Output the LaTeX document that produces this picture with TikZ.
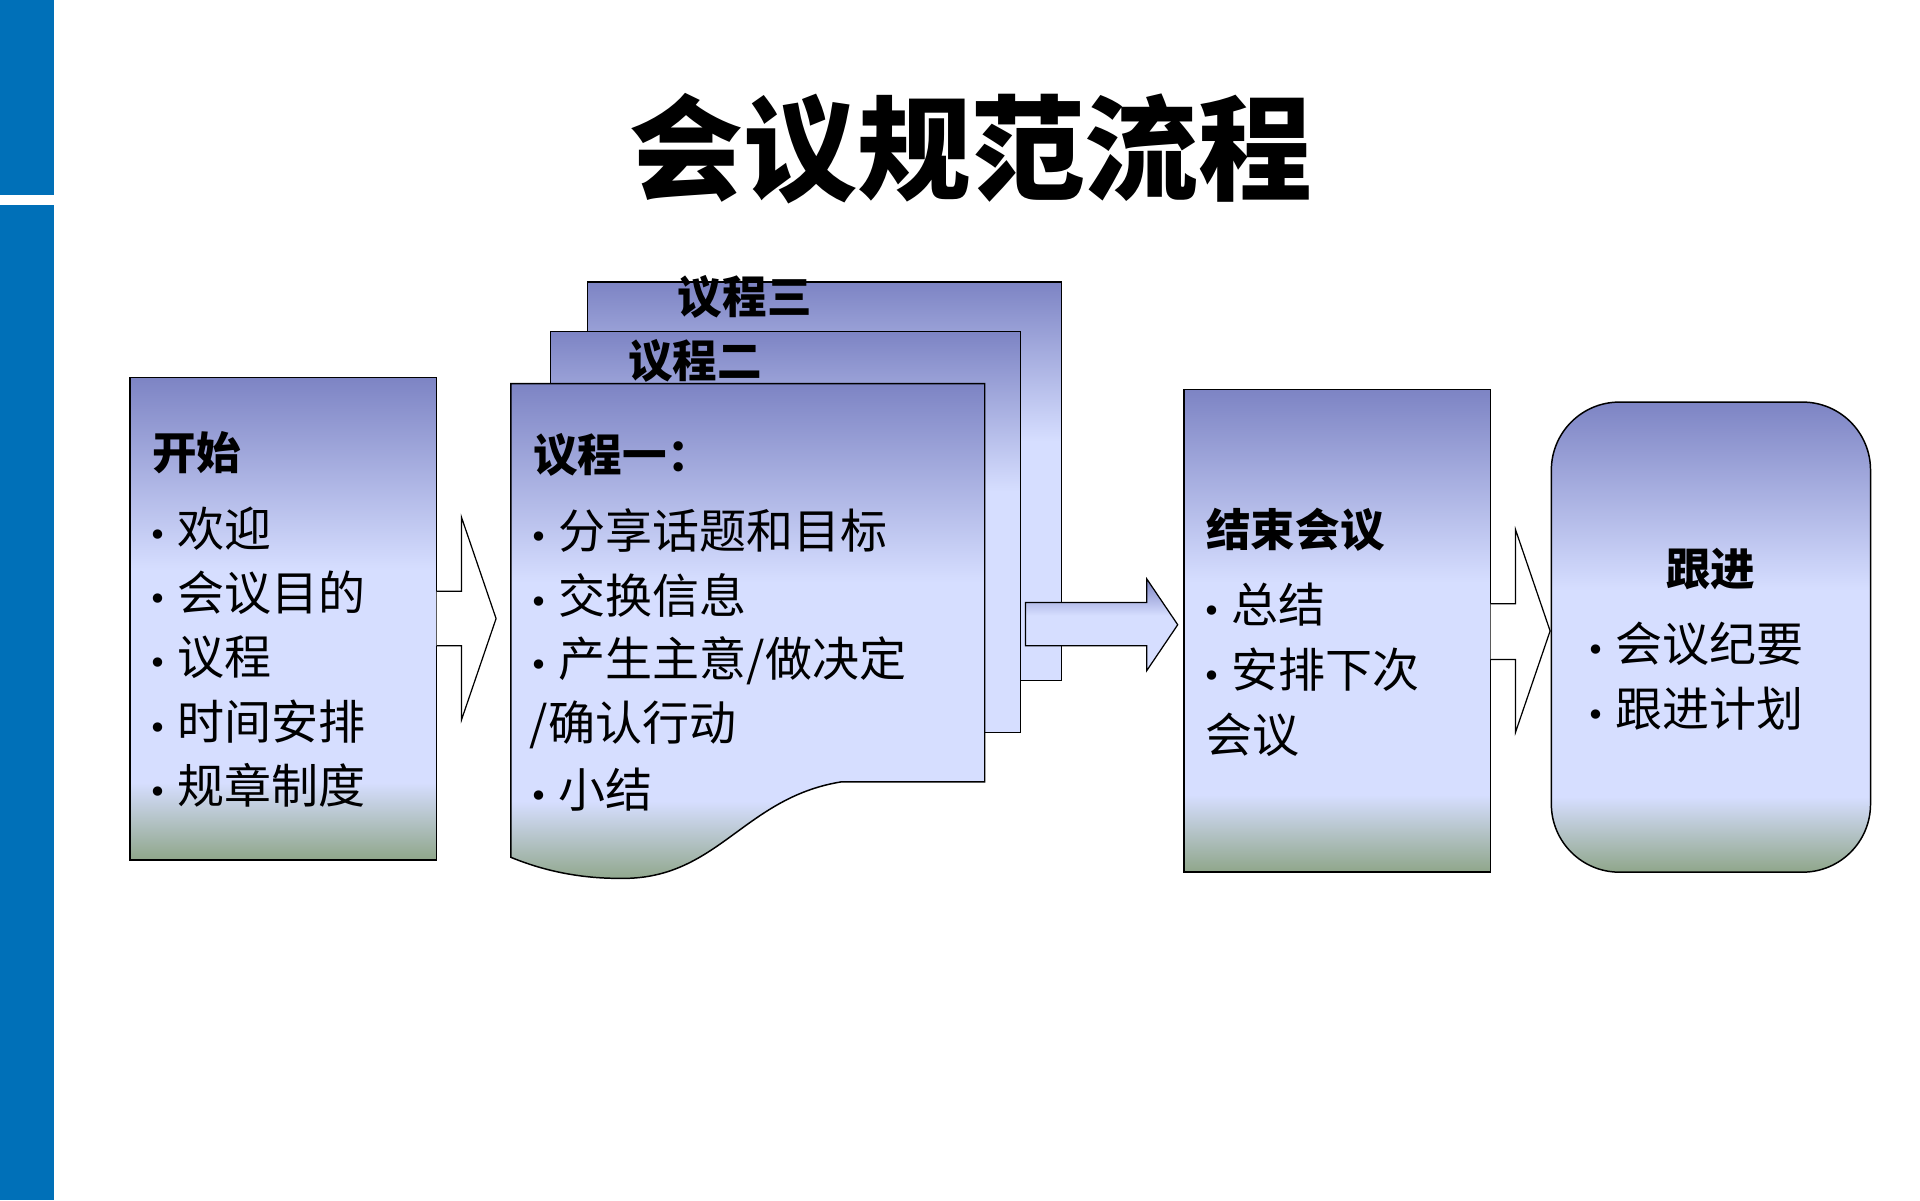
\documentclass[tikz,border=0pt]{standalone}
\usepackage{fontspec}
\setmainfont{Noto Sans CJK SC}
\newfontfamily\cjk{Noto Sans CJK SC}
\newfontfamily\bulfont{DejaVu Sans}
\newcommand{\mybul}{{\bulfont\fontsize{26}{30}\selectfont •}\hspace{8pt}}
\definecolor{botc}{HTML}{8FA68A}
\definecolor{lightc}{HTML}{D6DEFF}
\definecolor{topc}{HTML}{7D84C4}
\definecolor{barblue}{HTML}{0070B8}
\pgfdeclareverticalshading{boxshade}{100bp}{color(0bp)=(botc); color(25bp)=(botc); color(33bp)=(lightc); color(55bp)=(lightc); color(75bp)=(topc); color(100bp)=(topc)}
\pgfdeclareverticalshading{stackshade}{100bp}{color(0bp)=(lightc); color(55bp)=(lightc); color(75bp)=(topc); color(100bp)=(topc)}
\begin{document}
\begin{tikzpicture}[x=1pt,y=-1pt,
  shbox/.style={draw=black,line width=1.2pt,shading=boxshade},
  stbox/.style={draw=black,line width=1.2pt,shading=stackshade},
  body/.style={anchor=west,font=\cjk\fontsize{38}{40}\selectfont,inner sep=0pt},
  head/.style={anchor=west,font=\cjk\bfseries\fontsize{36}{40}\selectfont,inner sep=0pt}]
\useasboundingbox (0,0) rectangle (1552,970);
\fill[white] (0,0) rectangle (1552,970);
\fill[barblue] (0,0) rectangle (44,158);
\fill[barblue] (0,166) rectangle (44,970);
\node[font=\cjk\bfseries\fontsize{92}{96}\selectfont] (title) at (785,120) {会议规范流程};
% box 1
\path[shbox] (105,305) rectangle (353,695);
\node[head] (h1) at (123,366) {开始};
\foreach \t [count=\i] in {欢迎,会议目的,议程,时间安排,规章制度}
  \node[body] (b1\i) at (120,427+52*\i-52) {\mybul\t};
% arrow 1
\path[draw=black,line width=1pt,fill=white] (353,478) -- (373,478) -- (373,418) -- (401,500) -- (373,582) -- (373,522) -- (353,522);
% doc stack
\path[stbox] (475,228) rectangle (858,550);
\node[head,anchor=center] (h3) at (602,240) {议程三};
\path[stbox] (445,268) rectangle (825,592);
\node[head,anchor=center] (h2) at (562,292) {议程二};
\path[shbox] (413,310) -- (796,310) -- (796,632) -- (680,632) .. controls (600,645) and (580,712) .. (500,710) .. controls (460,710) and (430,700) .. (413,693) -- cycle;
\node[head] (h4) at (431,368) {议程一：};
\node[body] (d1) at (428,429) {\mybul 分享话题和目标};
\node[body] (d2) at (428,481) {\mybul 交换信息};
\node[body] (d3) at (428,534) {\mybul 产生主意/做决定};
\node[body] (d4) at (428,586) {/确认行动};
\node[body] (d5) at (428,638) {\mybul 小结};
% arrow 2
\path[stbox,line width=1pt] (829,487) -- (927,487) -- (927,468) -- (952,505) -- (927,542) -- (927,522) -- (829,522) -- cycle;
% box 3
\path[shbox] (957,315) rectangle (1205,705);
\node[head] (h5) at (975,428) {结束会议};
\node[body] (e1) at (972,489) {\mybul 总结};
\node[body] (e2) at (972,541) {\mybul 安排下次};
\node[body] (e3) at (974,594) {会议};
% arrow 3
\path[draw=black,line width=1pt,fill=white] (1205,488) -- (1225,488) -- (1225,428) -- (1253,510) -- (1225,592) -- (1225,533) -- (1205,533);
% box 4
\path[shbox,rounded corners=55pt] (1254,325) rectangle (1512,705);
\node[head,anchor=center] (h6) at (1383,460) {跟进};
\node[body] (f1) at (1282,520) {\mybul 会议纪要};
\node[body] (f2) at (1282,573) {\mybul 跟进计划};
\end{tikzpicture}
\end{document}
